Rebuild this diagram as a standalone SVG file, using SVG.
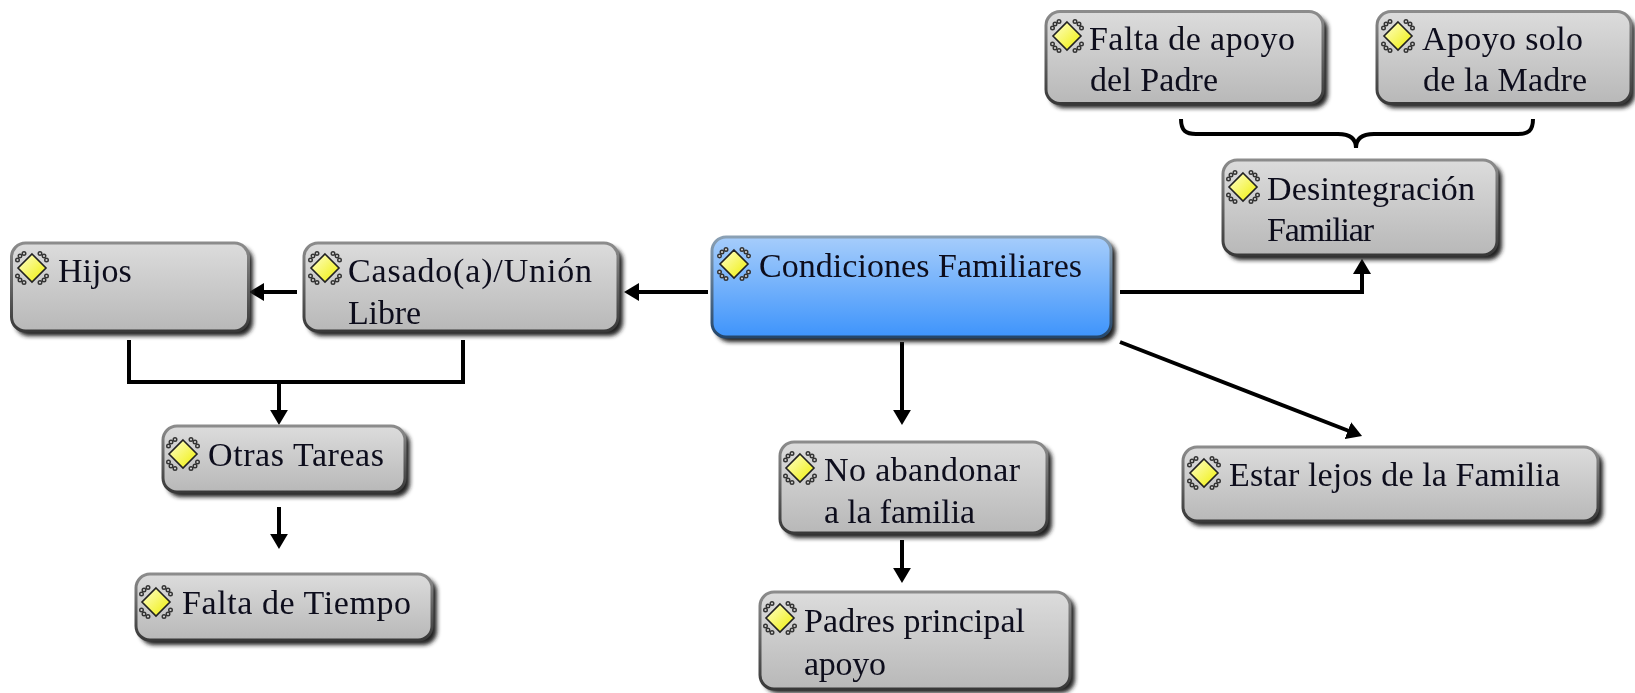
<svg xmlns="http://www.w3.org/2000/svg" width="1635" height="693" viewBox="0 0 1635 693">
<style>
.b{fill:url(#g);stroke:url(#e);stroke-width:3}
.m{fill:url(#bl);stroke:url(#e2);stroke-width:3}
.s{fill:#222;filter:url(#bs)}
text{font-family:"Liberation Serif","Times New Roman",serif;font-size:34px;fill:#0c0c1c;filter:url(#sf)}
.c{fill:none;stroke:#000;stroke-width:4}
.d{fill:#cfcfcf;stroke:#333;stroke-width:1.4}
</style>
<defs>
<linearGradient id="g" x1="0" y1="0" x2="0" y2="1"><stop offset="0" stop-color="#dcdcdc"/><stop offset="1" stop-color="#b8b8b8"/></linearGradient>
<linearGradient id="e" x1="0" y1="0" x2="0" y2="1"><stop offset="0" stop-color="#8c8c8c"/><stop offset="1" stop-color="#383838"/></linearGradient>
<linearGradient id="e2" x1="0" y1="0" x2="0" y2="1"><stop offset="0" stop-color="#8aa0b4"/><stop offset="1" stop-color="#24466a"/></linearGradient>
<linearGradient id="bl" x1="0" y1="0" x2="0" y2="1"><stop offset="0" stop-color="#a6cdfb"/><stop offset="1" stop-color="#3e94fb"/></linearGradient>
<linearGradient id="y" x1="0" y1="0" x2="1" y2="1"><stop offset="0" stop-color="#ffffd0"/><stop offset="1" stop-color="#eeee00"/></linearGradient>
<filter id="bs" x="-10%" y="-20%" width="120%" height="140%"><feGaussianBlur stdDeviation="2"/></filter>
<filter id="sf"><feGaussianBlur stdDeviation="0.45"/></filter>
<marker id="a" markerWidth="4" markerHeight="4.500" refX="1" refY="2.250" orient="auto" markerUnits="strokeWidth"><path d="M0 0L3.800 2.250L0 4.500z" fill="#000"/></marker>
<g id="i">
<circle class="d" cx="-12" cy="-12" r="1.800"/><circle class="d" cx="-14.500" cy="-8" r="1.800"/><circle class="d" cx="-8" cy="-14.500" r="1.800"/>
<circle class="d" cx="12" cy="-12" r="1.800"/><circle class="d" cx="14.500" cy="-8" r="1.800"/><circle class="d" cx="8" cy="-14.500" r="1.800"/>
<circle class="d" cx="-12" cy="12" r="1.800"/><circle class="d" cx="-14.500" cy="8" r="1.800"/><circle class="d" cx="-8" cy="14.500" r="1.800"/>
<circle class="d" cx="12" cy="12" r="1.800"/><circle class="d" cx="14.500" cy="8" r="1.800"/><circle class="d" cx="8" cy="14.500" r="1.800"/>
<path d="M0-14L14 0L0 14L-14 0z" fill="url(#y)" stroke="#222" stroke-width="1.6"/>
</g>
</defs>
<g id="connectors">
<path class="c" d="M708 292H635.200" marker-end="url(#a)"/>
<path class="c" d="M297 292H260.200" marker-end="url(#a)"/>
<path class="c" d="M1120 292H1362V270" marker-end="url(#a)"/>
<path class="c" d="M1120 342L1351.600 432" marker-end="url(#a)"/>
<path class="c" d="M902 342V413.800" marker-end="url(#a)"/>
<path class="c" d="M902 540V571.800" marker-end="url(#a)"/>
<path class="c" d="M129 340V382H463V340"/>
<path class="c" d="M279 382V413.800" marker-end="url(#a)"/>
<path class="c" d="M279 507V537.800" marker-end="url(#a)"/>
<path class="c" d="M1181 119C1181 131 1186 134 1196 134H1338C1348 134 1356 137 1356 148C1356 137 1364 134 1374 134H1518C1528 134 1533 131 1533 119"/>
</g>
<g id="n1"><rect class="s" x="1050" y="16" width="278" height="92" rx="14"/><rect class="b" x="1046" y="11.500" width="277" height="92" rx="14"/><use href="#i" x="1067" y="36"/><text x="1089" y="50" textLength="206">Falta de apoyo</text><text x="1090" y="91" textLength="128">del Padre</text></g>
<g id="n2"><rect class="s" x="1381" y="16" width="254" height="92" rx="14"/><rect class="b" x="1377" y="11.500" width="254" height="92" rx="14"/><use href="#i" x="1398" y="36"/><text x="1422" y="50" textLength="161">Apoyo solo</text><text x="1423" y="91" textLength="164">de la Madre</text></g>
<g id="n3"><rect class="s" x="1227" y="164" width="275" height="96" rx="14"/><rect class="b" x="1223" y="160" width="274" height="95" rx="14"/><use href="#i" x="1243" y="187"/><text x="1267" y="200" textLength="208">Desintegración</text><text x="1267" y="241" textLength="107">Familiar</text></g>
<g id="n4"><rect class="s" x="716" y="241" width="400" height="101" rx="14"/><rect class="m" x="712" y="237" width="399" height="100" rx="14"/><use href="#i" x="734" y="264"/><text x="759" y="277" textLength="323">Condiciones Familiares</text></g>
<g id="n5"><rect class="s" x="308" y="247" width="315" height="89" rx="14"/><rect class="b" x="304" y="243" width="314" height="88" rx="14"/><use href="#i" x="325" y="268"/><text x="348" y="282" textLength="244">Casado(a)/Unión</text><text x="348" y="324" textLength="73">Libre</text></g>
<g id="n6"><rect class="s" x="15" y="247" width="238" height="89" rx="14"/><rect class="b" x="11.500" y="243" width="237" height="88" rx="14"/><use href="#i" x="32" y="268"/><text x="58" y="282">Hijos</text></g>
<g id="n7"><rect class="s" x="167" y="430" width="243" height="67" rx="14"/><rect class="b" x="163" y="426" width="242" height="66" rx="14"/><use href="#i" x="183" y="454"/><text x="208" y="466" textLength="176">Otras Tareas</text></g>
<g id="n8"><rect class="s" x="140" y="578" width="297" height="67" rx="14"/><rect class="b" x="136" y="574" width="296" height="66" rx="14"/><use href="#i" x="156" y="602"/><text x="182" y="614" textLength="229">Falta de Tiempo</text></g>
<g id="n9"><rect class="s" x="784" y="446" width="268" height="92" rx="14"/><rect class="b" x="780" y="442" width="267" height="91" rx="14"/><use href="#i" x="800" y="468"/><text x="824" y="481" textLength="196">No abandonar</text><text x="824" y="523" textLength="151">a la familia</text></g>
<g id="n10"><rect class="s" x="764" y="596" width="311" height="97" rx="14"/><rect class="b" x="760" y="592" width="310" height="97" rx="14"/><use href="#i" x="780" y="618"/><text x="804" y="632" textLength="221">Padres principal</text><text x="804" y="675" textLength="82">apoyo</text></g>
<g id="n11"><rect class="s" x="1187" y="451" width="416" height="75" rx="14"/><rect class="b" x="1183" y="447" width="415" height="74" rx="14"/><use href="#i" x="1204" y="473"/><text x="1229" y="486" textLength="331">Estar lejos de la Familia</text></g>
</svg>
